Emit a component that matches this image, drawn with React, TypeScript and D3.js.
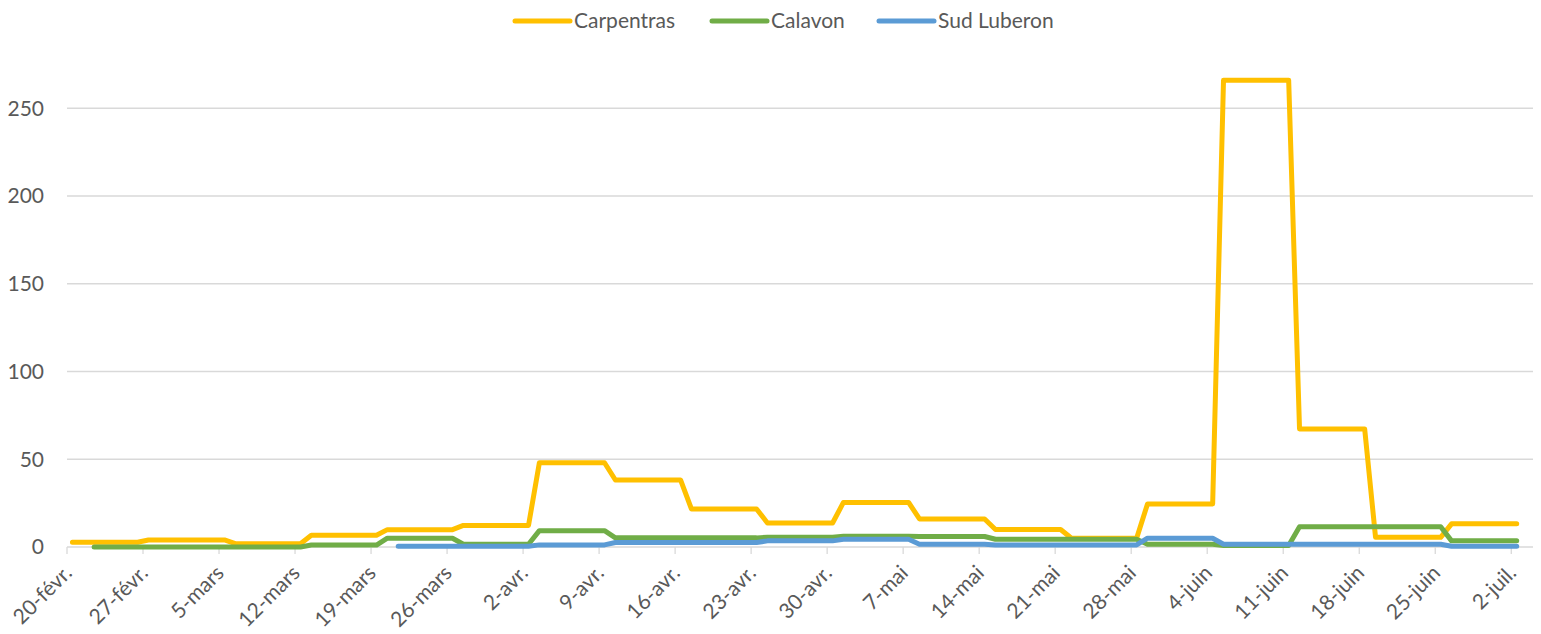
import * as React from 'react';
import * as d3 from 'd3';

// weekly periods (start dates); each value holds until the day before the next start
const weeks = ['2020-02-20', '2020-02-27', '2020-03-06', '2020-03-13', '2020-03-20', '2020-03-27',
	'2020-04-03', '2020-04-10', '2020-04-17', '2020-04-24', '2020-05-01', '2020-05-08', '2020-05-15',
	'2020-05-22', '2020-05-29', '2020-06-05', '2020-06-12', '2020-06-19', '2020-06-26'];
const lastDay = '2020-07-02';

const carpentras = [2.7, 4, 1.9, 6.7, 9.9, 12.3, 48, 38.2, 21.7, 13.7, 25.4, 16, 10, 5, 24.5, 266, 67.3, 5.5, 13.2];
const calavon = [0, 0, 0, 1.1, 5, 1.6, 9.3, 5.2, 5.2, 5.6, 6.1, 6, 4.4, 4.4, 1.6, 0.9, 11.6, 11.6, 3.5];
const sudLuberon = [null, null, null, null, 0.4, 0.4, 1.2, 2.6, 2.6, 3.5, 4.4, 1.6, 1.2, 1.2, 5, 1.6, 1.6, 1.6, 0.4];

const seriesNames = ['Carpentras', 'Calavon', 'Sud Luberon'];
const seriesStarts = ['2020-02-20', '2020-02-22', '2020-03-21'];
const seriesColors = ['#FFC000', '#70AD47', '#5B9BD5'];

const yTicks = [0, 50, 100, 150, 200, 250];

const W = 1541, H = 634;
const FONT = 'Lato, "Open Sans", sans-serif';
const FONT_SIZE = '21px';

const parse = d3.utcParse('%Y-%m-%d');
const fmtDay = (d: Date) => {
	const months = ['janv.', 'févr.', 'mars', 'avr.', 'mai', 'juin', 'juil.', 'août', 'sept.', 'oct.', 'nov.', 'déc.'];
	return d.getUTCDate() + '-' + months[d.getUTCMonth()];
};

const buildPoints = (values, start) => {
	const s = parse(start);
	const pts = [];
	values.forEach((v, i) => {
		if (v == null) return;
		let a = parse(weeks[i]);
		const b = i < weeks.length - 1 ? d3.utcDay.offset(parse(weeks[i + 1]), -1) : parse(lastDay);
		if (b < s) return;
		if (a < s) a = s;
		pts.push({date: a, value: v});
		if (+b !== +a) pts.push({date: b, value: v});
	});
	return pts;
};

const draw = (svgEl) => {
	const svg = d3.select(svgEl);
	svg.html('');

	const x0 = 67, x1 = 1533;
	const first = parse(weeks[0]);
	const x = d3.scaleUtc()
		.domain([first, d3.utcDay.offset(parse(lastDay), 2)])
		.range([x0, x1]);
	const half = (x(d3.utcDay.offset(first, 1)) - x(first)) / 2;
	const y = d3.scaleLinear().domain([0, 275]).range([547, 64.4]);

	// gridlines
	svg.append('g')
		.selectAll('line')
		.data(yTicks)
		.enter().append('line')
		.attr('x1', x0).attr('x2', x1)
		.attr('y1', d => y(d)).attr('y2', d => y(d))
		.attr('stroke', '#d9d9d9')
		.attr('stroke-width', 1.3);

	svg.append('g')
		.selectAll('text')
		.data(yTicks)
		.enter().append('text')
		.attr('x', 44)
		.attr('y', d => y(d))
		.attr('dy', '0.35em')
		.attr('text-anchor', 'end')
		.attr('fill', '#595959')
		.style('font-family', FONT)
		.style('font-size', FONT_SIZE)
		.text(d => d);

	// x ticks every 7 days
	const xTicks = d3.utcDay.range(first, d3.utcDay.offset(parse(lastDay), 1), 7);
	svg.append('g')
		.selectAll('line')
		.data(xTicks)
		.enter().append('line')
		.attr('x1', d => x(d)).attr('x2', d => x(d))
		.attr('y1', y(0)).attr('y2', y(0) + 7)
		.attr('stroke', '#d9d9d9')
		.attr('stroke-width', 1.3);

	svg.append('g')
		.selectAll('text')
		.data(xTicks)
		.enter().append('text')
		.attr('transform', d => 'translate(' + (x(d) + 1) + ',' + (y(0) + 22) + ') rotate(-45)')
		.attr('dy', '0.35em')
		.attr('text-anchor', 'end')
		.attr('fill', '#595959')
		.style('font-family', FONT)
		.style('font-size', FONT_SIZE)
		.text(d => fmtDay(d));

	// lines
	const line = d3.line<any>()
		.x(d => x(d.date) + half)
		.y(d => y(d.value));

	[carpentras, calavon, sudLuberon].forEach((vals, i) => {
		svg.append('path')
			.datum(buildPoints(vals, seriesStarts[i]))
			.attr('d', line)
			.attr('fill', 'none')
			.attr('stroke', seriesColors[i])
			.attr('stroke-width', 5)
			.attr('stroke-linejoin', 'round')
			.attr('stroke-linecap', 'round');
	});

	// legend
	const legendX = [515, 712, 879];
	const legend = svg.append('g')
		.selectAll('g')
		.data(seriesNames)
		.enter().append('g')
		.attr('transform', (d, i) => 'translate(' + legendX[i] + ',21)');
	legend.append('line')
		.attr('x1', 0).attr('x2', 55)
		.attr('stroke', (d, i) => seriesColors[i])
		.attr('stroke-width', 5)
		.attr('stroke-linecap', 'round');
	legend.append('text')
		.attr('x', 59)
		.attr('dy', '0.35em')
		.attr('fill', '#595959')
		.style('font-family', FONT)
		.style('font-size', FONT_SIZE)
		.text(d => d);
};

class App extends React.Component<any, any> {
	private ref = React.createRef<SVGSVGElement>();

	public componentDidMount() {
		document.body.style.margin = '0';
		draw(this.ref.current);
	}

	public render() {
		return (
			<svg ref={this.ref} width={W} height={H} style={{display: 'block', background: '#fff'}}/>
		);
	}
}

export default App;
